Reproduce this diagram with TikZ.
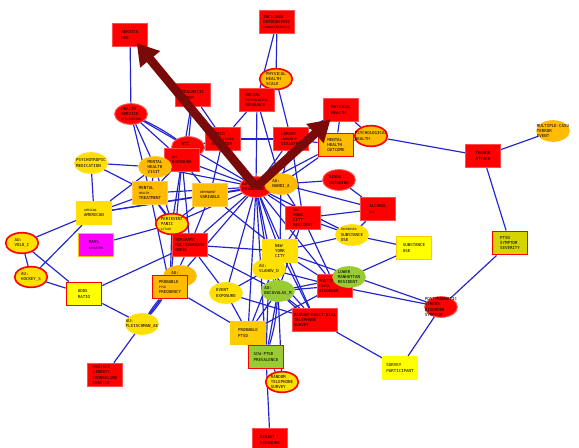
\documentclass[tikz,border=0pt]{standalone}
\usepackage{fontspec}
\setmonofont{DejaVu Sans Mono}
\usetikzlibrary{shapes.geometric,arrows.meta,backgrounds}
\definecolor{nred}{HTML}{FF0000}
\definecolor{norange}{HTML}{FFBB00}
\definecolor{ngold}{HTML}{FFCC00}
\definecolor{nyellow}{HTML}{FFE000}
\definecolor{nlemon}{HTML}{FFFF00}
\definecolor{ngreen}{HTML}{99CC33}
\definecolor{nmagenta}{HTML}{FF00FF}
\definecolor{nolive}{HTML}{D4D400}
\definecolor{edgeblue}{HTML}{2424CC}
\definecolor{bigarrow}{HTML}{7A0A0A}
\newcommand\nodefont{\fontsize{3.5}{4.4}\selectfont\ttfamily}
\newcommand\subline[1]{{\fontsize{2.5}{3.3}\selectfont #1}}
\tikzset{
  box/.style={rectangle, minimum width=1.05cm, minimum height=0.7cm, inner sep=1pt, align=left, font=\nodefont, line width=0.8pt},
  oval/.style={ellipse, minimum width=0.98cm, minimum height=0.62cm, inner xsep=-5pt, inner ysep=-3pt, align=left, font=\nodefont, line width=0.8pt},
  redbox/.style={box, fill=nred, draw=nred!70!white},
  orangebox/.style={box, fill=norange, draw=norange!70!white},
  yellowbox/.style={box, fill=nyellow, draw=nyellow},
  redoval/.style={oval, fill=nred, draw=nred!70!white},
  yellowoval/.style={oval, fill=nyellow, draw=nyellow},
  orangeoval/.style={oval, fill=norange, draw=norange},
  greenoval/.style={oval, fill=ngreen, draw=ngreen},
  ringed/.style={draw=nred, line width=1.4pt},
  link/.style={draw=edgeblue, line width=1pt},
  bigpointer/.style={draw=bigarrow, line width=7.5pt, -{Triangle[length=18pt, width=21pt]}}
}
\begin{document}
\begin{tikzpicture}[x=0.03cm, y=-0.03cm]
\useasboundingbox (0,0) rectangle (579,448);

\node [redbox] (SU) at (130,35) {SERVICE\\USE};
\node [redbox] (IDC) at (277,22) {INCLUDED\\DEMOGRAPHIC\\\subline{CHARACTERISTICS}};
\node [yellowoval, ringed, fill=norange] (PHS) at (276,79) {PHYSICAL\\HEALTH\\SCALE};
\node [redbox] (TRA) at (193,95) {TRAUMATIC\\EVENT};
\node [redbox] (SPR) at (257,100) {SOCIAL\\\subline{PSYCHOLOGICAL}\\RESOURCE};
\node [redoval] (HSU) at (131,114) {HEALTH\\SERVICE\\\subline{UTILIZATION}};
\node [redbox] (PH) at (341,110) {PHYSICAL\\HEALTH};
\node [orangeoval, ringed] (PSH) at (371,136) {PSYCHOLOGICAL\\HEALTH};
\node [redoval] (WE) at (188,147) {WTC\\EVENT};
\node [redbox] (WX) at (182,160) {\subline{WTC}\\EXPOSURE};
\node [redbox] (WTD) at (223,139) {WORLD\\\subline{TRADE CENTER}\\DISASTER};
\node [redbox] (LAR) at (291,139) {LARGER\\\subline{COMMUNITY}\\DISASTER};
\node [orangeoval, draw=ngold] (MHV) at (155,167) {MENTAL\\HEALTH\\VISIT};
\node [yellowoval] (PTM) at (91,163) {PSYCHOTROPIC\\MEDICATION};
\node [orangebox] (MHT) at (150,193) {MENTAL\\\subline{HEALTH}\\TREATMENT};
\node [orangebox] (DV) at (210,195) {\subline{DEPENDENT}\\VARIABLE};
\node [redoval] (BOS) at (256,187) {AU:\\BOSCARINO\_J};
\node [orangeoval] (NAN) at (281,184) {AU:\\NANDI\_A};
\node [orangebox, ringed] (MHO) at (336,145) {MENTAL\\HEALTH\\OUTCOME};
\node [redoval] (BD) at (339,180) {BINGE\\DRINKING};
\node [redbox] (AU) at (378,209) {ALCOHOL\\\subline{USE}};
\node [redbox] (NYR) at (303,218) {\subline{NEW}\\YORK\\CITY\\RESIDENT};
\node [redbox] (TA) at (483,156) {TERROR\\ATTACK};
\node [orangeoval] (MCT) at (553,131) {MULTIPLE-CASU\\TERROR\\EVENT};
\node [box, fill=nolive, ringed] (PSS) at (510,243) {PTSD\\SYMPTOM\\SEVERITY};
\node [redoval] (PSDS) at (441,307) {POSTTRAUMATIC\\STRESS\\DISORDER\\SYMPTOM};
\node [box, fill=nlemon, draw=nlemon] (SP) at (400,368) {SURVEY\\PARTICIPANT};
\node [box, fill=nlemon, draw=ngold] (SUB) at (414,248) {SUBSTANCE\\USE};
\node [yellowoval] (ISU) at (352,235) {\subline{INCREASED}\\SUBSTANCE\\USE};
\node [redbox] (PTSD) at (335,286) {POSTTRAUMATIC\\\subline{STRESS}\\DISORDER};
\node [greenoval] (LMR) at (349,277) {LOWER\\MANHATTAN\\RESIDENT};
\node [yellowbox] (NYC) at (280,251) {NEW\\YORK\\CITY};
\node [yellowoval] (VLA) at (269,269) {AU:\\VLAHOV\_D};
\node [greenoval] (BUC) at (278,291) {AU:\\BUCUVALAS\_M};
\node [yellowoval] (EE) at (226,293) {EVENT\\EXPOSURE};
\node [redbox] (SMM) at (190,245) {SEPARATE\\MULTIVARIATE\\MODEL};
\node [yellowoval, ringed] (PPA) at (172,224) {PERIEVENT\\PANIC\\\subline{ATTACK}};
\node [orangeoval] (AUX) at (180,276) {AU:\\GALEA\_S};
\node [orangebox, ringed] (PPF) at (170,287) {PROBABLE\\\subline{PTSD}\\FREQUENCY};
\node [box, fill=nmagenta, draw=norange] (MAS) at (96,245) {MASS\\\subline{DISASTER}};
\node [yellowbox] (AFA) at (94,213) {\subline{AFRICAN}\\AMERICAN};
\node [yellowoval, ringed] (WOL) at (22,243) {AU:\\VOLO\_C};
\node [yellowoval, ringed] (HOC) at (31,277) {AU:\\HOCKEY\_S};
\node [box, fill=nlemon, ringed] (OR) at (84,294) {ODDS\\RATIO};
\node [yellowoval] (FLE) at (142,324) {AU:\\FLEISCHMAN\_AE};
\node [redbox] (PLC) at (105,375) {PROJECT\\LIBERTY\\COUNSELING\\SERVICE};
\node [box, fill=ngold, draw=ngold] (PP) at (248,333) {PROBABLE\\PTSD};
\node [box, fill=ngreen, ringed] (SCW) at (266,357) {SCW-PTSD\\PREVALENCE};
\node [yellowoval, ringed] (RTS) at (282,382) {RANDOM\\TELEPHONE\\SURVEY};
\node [redbox] (RDD) at (315,320) {RANDOM-DIGIT-DIAL\\TELEPHONE\\SURVEY};
\node [redbox] (DE) at (270,440) {DIRECT\\EXPOSURE};

\begin{scope}[on background layer, every path/.style={link}]
\draw (BOS) -- (SPR); \draw (BOS) -- (WTD); \draw (BOS) -- (LAR); \draw (BOS) -- (WX);
\draw (BOS) -- (WE); \draw (BOS) -- (MHV); \draw (BOS) -- (MHT); \draw (BOS) -- (DV);
\draw (BOS) -- (AFA); \draw (BOS) -- (PPA); \draw (BOS) -- (SMM); \draw (BOS) -- (NYC);
\draw (BOS) -- (VLA); \draw (BOS) -- (BUC); \draw (BOS) -- (EE); \draw (BOS) -- (NYR);
\draw (BOS) -- (ISU); \draw (BOS) -- (PTSD); \draw (BOS) -- (RDD); \draw (BOS) -- (MHO);
\draw (BOS) -- (TRA); \draw (BOS) -- (PPF); \draw (BOS) -- (PP); \draw (BOS) -- (SCW);
\draw (SU) -- (HSU);
\draw (IDC) -- (PHS); \draw (IDC) -- (SPR);
\draw (PHS) -- (LAR); \draw (PHS) -- (SPR);
\draw (TRA) -- (WE); \draw (TRA) -- (WX);
\draw (SPR) -- (WTD); \draw (SPR) -- (NAN);
\draw (HSU) -- (WE); \draw (HSU) to[bend left=4] (WE); \draw (HSU) -- (WX);
\draw (HSU) -- (MHV); \draw (HSU) -- (MHT);
\draw (PH) -- (MHO); \draw (PH) -- (PSH); \draw (PH) -- (LAR);
\draw (PSH) -- (TA); \draw (PSH) -- (MHO);
\draw (TA) -- (MCT); \draw (TA) -- (PSS);
\draw (PSS) -- (PSDS);
\draw (PSDS) -- (SP); \draw (PSDS) -- (PTSD); \draw (PSDS) -- (NYC);
\draw (RDD) -- (SP);
\draw (LMR) -- (SUB); \draw (LMR) -- (BUC);
\draw (ISU) -- (SUB); \draw (ISU) -- (AU); \draw (ISU) -- (NYC); \draw (ISU) -- (NYR);
\draw (BD) -- (AU); \draw (BD) -- (NAN);
\draw (AU) -- (NAN); \draw (AU) -- (NYR);
\draw (NAN) -- (NYR); \draw (NAN) -- (LAR); \draw (NAN) -- (MHO); \draw (NAN) -- (DV); \draw (NAN) -- (NYC);
\draw (NYR) -- (VLA); \draw (NYR) -- (PTSD); \draw (NYR) -- (BUC);
\draw (NYC) -- (VLA); \draw (NYC) -- (PP); \draw (NYC) -- (RDD); \draw (NYC) -- (PTSD);
\draw (VLA) -- (BUC); \draw (VLA) -- (EE); \draw (VLA) -- (PTSD); \draw (VLA) -- (SCW); \draw (VLA) -- (RDD);
\draw (BUC) -- (SCW); \draw (BUC) to[bend left=6] (SCW); \draw (BUC) -- (RTS);
\draw (BUC) -- (RDD); \draw (BUC) to[bend right=5] (RDD); \draw (BUC) -- (PTSD); \draw (BUC) -- (PP);
\draw (SCW) -- (RTS); \draw (SCW) -- (DE); \draw (SCW) -- (PP);
\draw (EE) -- (PP); \draw (EE) -- (RDD); \draw (EE) -- (SMM);
\draw (PP) -- (PPF); \draw (PP) -- (PTSD);
\draw (PPF) -- (FLE); \draw (PPF) to[bend left=4] (FLE); \draw (PPF) to[bend right=4] (FLE);
\draw (PPF) -- (PPA); \draw (PPF) -- (MHT); \draw (PPF) -- (WX); \draw (PPF) -- (SMM);
\draw (FLE) -- (OR); \draw (FLE) -- (PLC);
\draw (OR) -- (WOL); \draw (OR) -- (HOC); \draw (OR) -- (SMM);
\draw (WOL) -- (HOC); \draw (WOL) -- (AFA);
\draw (HOC) -- (AFA);
\draw (AFA) -- (PTM); \draw (AFA) -- (MHT); \draw (AFA) -- (MHV); \draw (AFA) -- (DV);
\draw (PTM) -- (MHV); \draw (PTM) -- (MHT);
\draw (MAS) -- (PPA);
\draw (MHV) -- (WX); \draw (MHV) -- (MHT); \draw (MHV) -- (PPA);
\draw (MHT) -- (WX); \draw (MHT) -- (PPA); \draw (MHT) -- (SMM);
\draw (WX) -- (DV); \draw (WX) -- (SMM); \draw (WX) -- (PPA); \draw (WX) -- (WTD);
\draw (WE) -- (WTD);
\draw (WTD) -- (LAR); \draw (WTD) -- (DV);
\draw (DV) -- (PPA); \draw (DV) -- (SMM); \draw (DV) -- (NYC);
\draw (SMM) -- (NYC); \draw (SMM) -- (PPA); \draw (SMM) -- (BUC);
\draw (LAR) -- (MHO); \draw (LAR) -- (NYR);
\end{scope}

\draw [bigpointer, shorten >=9pt] (BOS.center) -- (SU.center);
\draw [bigpointer, shorten >=12pt] (BOS.center) -- (PH.center);
\end{tikzpicture}
\end{document}
